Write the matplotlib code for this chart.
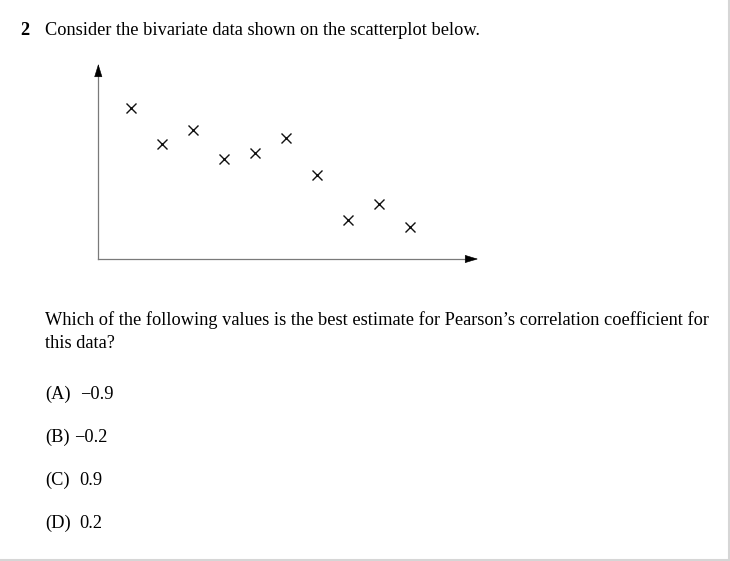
import matplotlib
matplotlib.use('Agg')
import matplotlib.pyplot as plt
from matplotlib.lines import Line2D

# Data read off the scatterplot (arbitrary units, no scale shown)
x_vals = [1, 2, 3, 4, 5, 6, 7, 8, 9, 10]
y_vals = [15.1, 11.5, 12.9, 10.0, 10.6, 12.1, 8.4, 3.9, 5.5, 3.2]

question_no = '2'
intro = 'Consider the bivariate data shown on the scatterplot below.'
question_lines = ["Which of the following values is the best estimate for Pearson\u2019s correlation coefficient for",
                  'this data?']
option_labels = ['(A)', '(B)', '(C)', '(D)']
option_values = ['\u22120.9', '\u22120.2', '0.9', '0.2']

W, H = 730, 561
fig = plt.figure(figsize=(W / 100, H / 100), dpi=100)
plt.rcParams['font.family'] = ['Liberation Serif', 'DejaVu Serif']


def px(x, y):
    return x / W, 1 - y / H


# text blocks
fs = 13.2
fig.text(*px(20, 35), question_no, fontsize=fs, fontweight='bold', va='baseline')
fig.text(*px(45, 35), intro, fontsize=fs, va='baseline')
for i, line in enumerate(question_lines):
    fig.text(*px(45, 325 + 23 * i), line, fontsize=fs, va='baseline')

value_x = [80, 74.5, 79, 79]
for i, (lab, val) in enumerate(zip(option_labels, option_values)):
    y = 399 + 43 * i
    fig.text(*px(45, y), lab, fontsize=fs, va='baseline')
    fig.text(*px(value_x[i], y), val, fontsize=fs, va='baseline')

# scatterplot
left, right, top, bottom = 98.3, 478, 64, 259
ax = fig.add_axes([left / W, 1 - bottom / H, (right - left) / W, (bottom - top) / H])
ax.set_xlim(-0.045, -0.045 + (right - left) / 31)
ax.set_ylim(0, (bottom - top) / 10)
ax.axis('off')

ax.plot(x_vals, y_vals, linestyle='none', marker='x', markersize=7,
        markeredgewidth=1.0, color='#111111')

axis_kw = dict(color='#7a7a7a', lw=0.9, transform=ax.transAxes, clip_on=False)
ax.plot([0, 0.99], [0, 0], **axis_kw)
ax.plot([0, 0], [0, 0.98], **axis_kw)
head = dict(arrowstyle='-|>,head_length=0.85,head_width=0.26', mutation_scale=10,
            fc='black', ec='black', lw=0.4, shrinkA=0, shrinkB=0)
ax.annotate('', xy=(1, 0), xytext=(0.97, 0), xycoords='axes fraction', arrowprops=head)
ax.annotate('', xy=(0, 1), xytext=(0, 0.94), xycoords='axes fraction', arrowprops=head)

# page border on right and bottom
fig.add_artist(Line2D([728.5 / W, 728.5 / W], [1 - 559.5 / H, 1], color='#d6d6d6', lw=1.5,
                      transform=fig.transFigure))
fig.add_artist(Line2D([0, 728.5 / W], [1 - 559.5 / H, 1 - 559.5 / H], color='#d6d6d6', lw=1.5,
                      transform=fig.transFigure))

fig.savefig('out.png', dpi=100)
